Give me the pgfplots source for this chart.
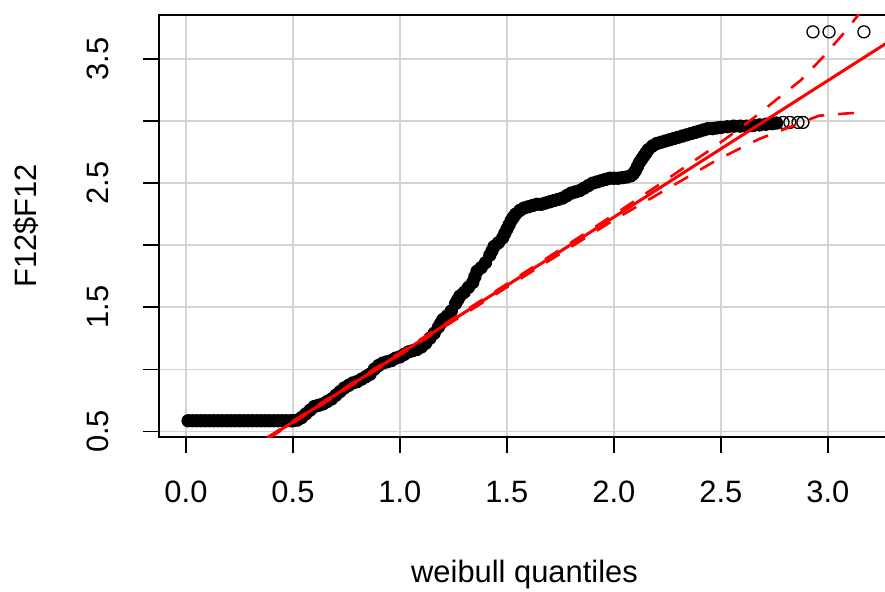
\documentclass[border=0pt]{standalone}
\usepackage{pgfplots}
\pgfplotsset{compat=1.18}
\usepackage{fontspec}
\setmainfont{Liberation Sans}
\definecolor{gridgray}{HTML}{D3D3D3}
\newcommand\bigf{\fontsize{31}{37}\selectfont}
\pgfplotstableread{
x y
0.01 0.585
0.03 0.585
0.05 0.585
0.07 0.585
0.09 0.585
0.11 0.585
0.13 0.585
0.15 0.585
0.17 0.585
0.19 0.585
0.21 0.585
0.23 0.585
0.25 0.585
0.27 0.585
0.29 0.585
0.31 0.585
0.33 0.585
0.35 0.585
0.37 0.585
0.39 0.585
0.41 0.585
0.43 0.585
0.45 0.585
0.47 0.585
0.49 0.585
0.50 0.585
0.52 0.59
0.54 0.61
0.56 0.64
0.58 0.67
0.60 0.70
0.62 0.71
0.64 0.72
0.66 0.74
0.68 0.76
0.70 0.79
0.72 0.82
0.74 0.85
0.76 0.87
0.78 0.89
0.80 0.90
0.82 0.92
0.84 0.94
0.86 0.96
0.88 1.00
0.90 1.03
0.92 1.05
0.94 1.06
0.96 1.07
0.98 1.09
1.00 1.10
1.02 1.12
1.04 1.14
1.06 1.15
1.08 1.16
1.10 1.18
1.12 1.21
1.14 1.25
1.16 1.29
1.18 1.34
1.19 1.37
1.20 1.40
1.22 1.43
1.24 1.47
1.26 1.53
1.27 1.56
1.28 1.59
1.30 1.62
1.32 1.66
1.34 1.70
1.35 1.745
1.36 1.79
1.38 1.82
1.40 1.86
1.42 1.92
1.43 1.955
1.44 1.99
1.46 2.02
1.48 2.06
1.49 2.095
1.50 2.13
1.51 2.165
1.52 2.20
1.53 2.225
1.54 2.25
1.56 2.28
1.58 2.30
1.60 2.31
1.62 2.32
1.64 2.33
1.66 2.33
1.68 2.34
1.70 2.35
1.72 2.36
1.74 2.37
1.76 2.38
1.78 2.40
1.80 2.42
1.82 2.43
1.84 2.44
1.86 2.46
1.88 2.48
1.90 2.50
1.92 2.51
1.94 2.52
1.96 2.53
1.98 2.54
2.00 2.54
2.02 2.54
2.04 2.545
2.06 2.55
2.08 2.56
2.09 2.575
2.10 2.60
2.11 2.635
2.12 2.67
2.13 2.695
2.14 2.72
2.15 2.745
2.16 2.77
2.18 2.80
2.20 2.82
2.22 2.83
2.24 2.84
2.26 2.85
2.28 2.86
2.30 2.87
2.32 2.88
2.34 2.89
2.36 2.90
2.38 2.91
2.40 2.92
2.42 2.93
2.44 2.94
2.46 2.94
2.48 2.945
2.50 2.95
2.53 2.955
2.56 2.96
2.59 2.96
2.62 2.96
2.65 2.965
2.68 2.97
2.71 2.975
2.74 2.98
2.76 2.985
}\densepts
\pgfplotstableread{
x y
2.790 2.99
2.822 2.99
2.860 2.99
2.883 2.99
2.930 3.72
3.005 3.72
3.168 3.72
}\sparsepts
\begin{document}
\begin{tikzpicture}
\path[use as bounding box] (0,0) rectangle (885bp,592bp);
\begin{axis}[
  at={(159bp,155bp)}, anchor=south west,
  scale only axis, width=731bp, height=422bp,
  xmin=-0.126, xmax=3.29, ymin=0.454, ymax=3.856,
  clip marker paths=true,
  xtick={0,0.5,1,1.5,2,2.5,3},
  xticklabels={0.0,0.5,1.0,1.5,2.0,2.5,3.0},
  ytick={0.5,1,1.5,2,2.5,3,3.5},
  yticklabels={0.5,,1.5,,2.5,,3.5},
  xtick pos=left, ytick pos=left,
  tick align=outside, major tick length=16bp,
  tick style={black, line width=1.5bp},
  axis line style={black, line width=1.6bp},
  grid=major, grid style={gridgray, line width=1.5bp},
  every tick label/.append style={font=\bigf},
  xticklabel style={anchor=center, yshift=-39bp},
  yticklabel style={xshift=-45bp, rotate=90, anchor=center},
  xlabel={weibull quantiles},
  ylabel={F12\$F12},
  every axis x label/.style={at={(rel axis cs:0.5,-0.327)}, anchor=center, font=\bigf},
  every axis y label/.style={at={(rel axis cs:-0.182,0.5)}, anchor=center, rotate=90, font=\bigf},
]
\addplot[only marks, mark=*, mark size=6bp, black, mark options={line width=1.3bp, fill=black}] table {\densepts};
\addplot[only marks, mark=o, mark size=6bp, black, mark options={line width=1.3bp}] table {\sparsepts};
\addplot[red, line width=3bp] coordinates {(0.38,0.443) (3.3,3.658)};
\addplot[red, line width=2.6bp, dash pattern=on 16bp off 14bp] table {
x y
0.38 0.450
1.00 1.135
1.50 1.688
2.00 2.246
2.20 2.476
2.437 2.754
2.535 2.875
2.645 3.016
2.75 3.161
2.874 3.331
2.981 3.524
3.09 3.742
3.165 3.909
};
\addplot[red, line width=2.6bp, dash pattern=on 16bp off 14bp] table {
x y
0.38 0.436
1.00 1.115
1.50 1.662
2.00 2.204
2.20 2.405
2.467 2.673
2.577 2.770
2.682 2.859
2.80 2.938
2.958 3.044
3.107 3.065
3.165 3.067
};
\end{axis}
\end{tikzpicture}
\end{document}
